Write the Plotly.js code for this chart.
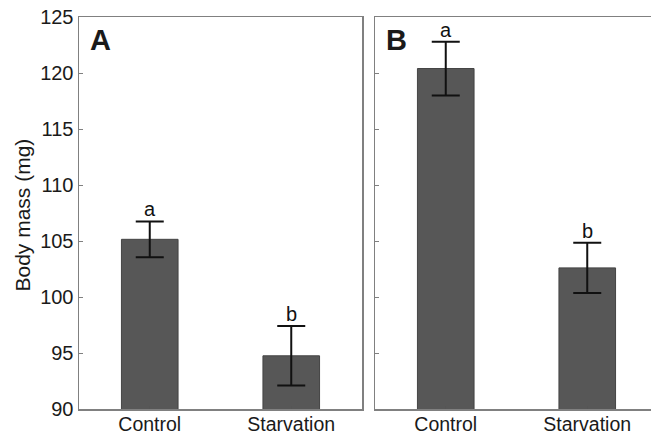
<!DOCTYPE html>
<html><head><meta charset="utf-8">
<script src="https://cdn.plot.ly/plotly-3.0.1.min.js"></script>
<style>html,body{margin:0;padding:0;overflow:hidden;background:#fff}#c{width:660px;height:436px}</style>
</head><body><div id="c"></div>
<script>
const categories = ["Control", "Starvation"];
const massA = [105.15, 94.75];
const errA = [1.6, 2.66];
const lettersA = ["a", "b"];
const massB = [120.4, 102.6];
const errB = [2.4, 2.24];
const lettersB = ["a", "b"];
const yTicks = [90, 95, 100, 105, 110, 115, 120, 125];

const W = 660, H = 436;
const font = {family: "Liberation Sans, Arial, sans-serif", size: 20, color: "#1a1a1a"};
const xfont = {family: "Liberation Sans, Arial, sans-serif", size: 19.5, color: "#1a1a1a"};
function bar(y, e, xa, ya) {
  return {type: "bar", x: categories, y: y, xaxis: xa, yaxis: ya, width: 0.4,
    marker: {color: "#575757", line: {color: "#444444", width: 1}},
    error_y: {type: "data", array: e, visible: true, color: "#111111", thickness: 2, width: 14},
    showlegend: false, hoverinfo: "skip"};
}
const axisX = {type: "category", range: [-0.5, 1.5], showline: true, mirror: true, linecolor: "#808080", linewidth: 1.5,
  ticks: "inside", ticklen: 3, tickcolor: "#555", tickfont: xfont, ticklabelstandoff: -3,
  showgrid: false, zeroline: false, fixedrange: true};
const axisY = {range: [90, 125], tickvals: yTicks, showline: true, mirror: true, linecolor: "#808080", linewidth: 1.5,
  ticks: "inside", ticklen: 4, tickcolor: "#808080", tickfont: font, showgrid: false, zeroline: false, fixedrange: true};

const ann = [];
function letters(vals, errs, lets, xr, yr) {
  for (let i = 0; i < vals.length; i++) {
    ann.push({x: categories[i], y: vals[i] + errs[i], xref: xr, yref: yr, text: lets[i], showarrow: false,
      yanchor: "bottom", yshift: -1, font: {family: font.family, size: 20, color: "#111"}});
  }
}
letters(massA, errA, lettersA, "x", "y");
letters(massB, errB, lettersB, "x2", "y2");
ann.push({xref: "paper", yref: "paper", x: 88 / W, y: 1, xanchor: "left", yanchor: "top", yshift: -5,
  text: "<b>A</b>", showarrow: false, font: {family: font.family, size: 29, color: "#1a1a1a"}});
ann.push({xref: "paper", yref: "paper", x: 384 / W, y: 1, xanchor: "left", yanchor: "top", yshift: -5,
  text: "<b>B</b>", showarrow: false, font: {family: font.family, size: 29, color: "#1a1a1a"}});
ann.push({xref: "paper", yref: "paper", x: 22 / W, y: (409 - 215.5) / 392, xanchor: "center", yanchor: "middle",
  textangle: -90, text: "Body mass (mg)", showarrow: false, font: {family: font.family, size: 21, color: "#1a1a1a"}});

const layout = {
  width: W, height: H, margin: {l: 0, r: 0, t: 17, b: 27}, paper_bgcolor: "#fff", plot_bgcolor: "#fff",
  font: font, bargap: 0,
  xaxis: Object.assign({}, axisX, {domain: [79 / W, 362 / W], anchor: "y"}),
  yaxis: Object.assign({}, axisY, {anchor: "x"}),
  xaxis2: Object.assign({}, axisX, {domain: [375 / W, 658 / W], anchor: "y2"}),
  yaxis2: Object.assign({}, axisY, {anchor: "x2", showticklabels: false}),
  annotations: ann
};
Plotly.newPlot("c", [bar(massA, errA, "x", "y"), bar(massB, errB, "x2", "y2")], layout, {staticPlot: true});
</script></body></html>
